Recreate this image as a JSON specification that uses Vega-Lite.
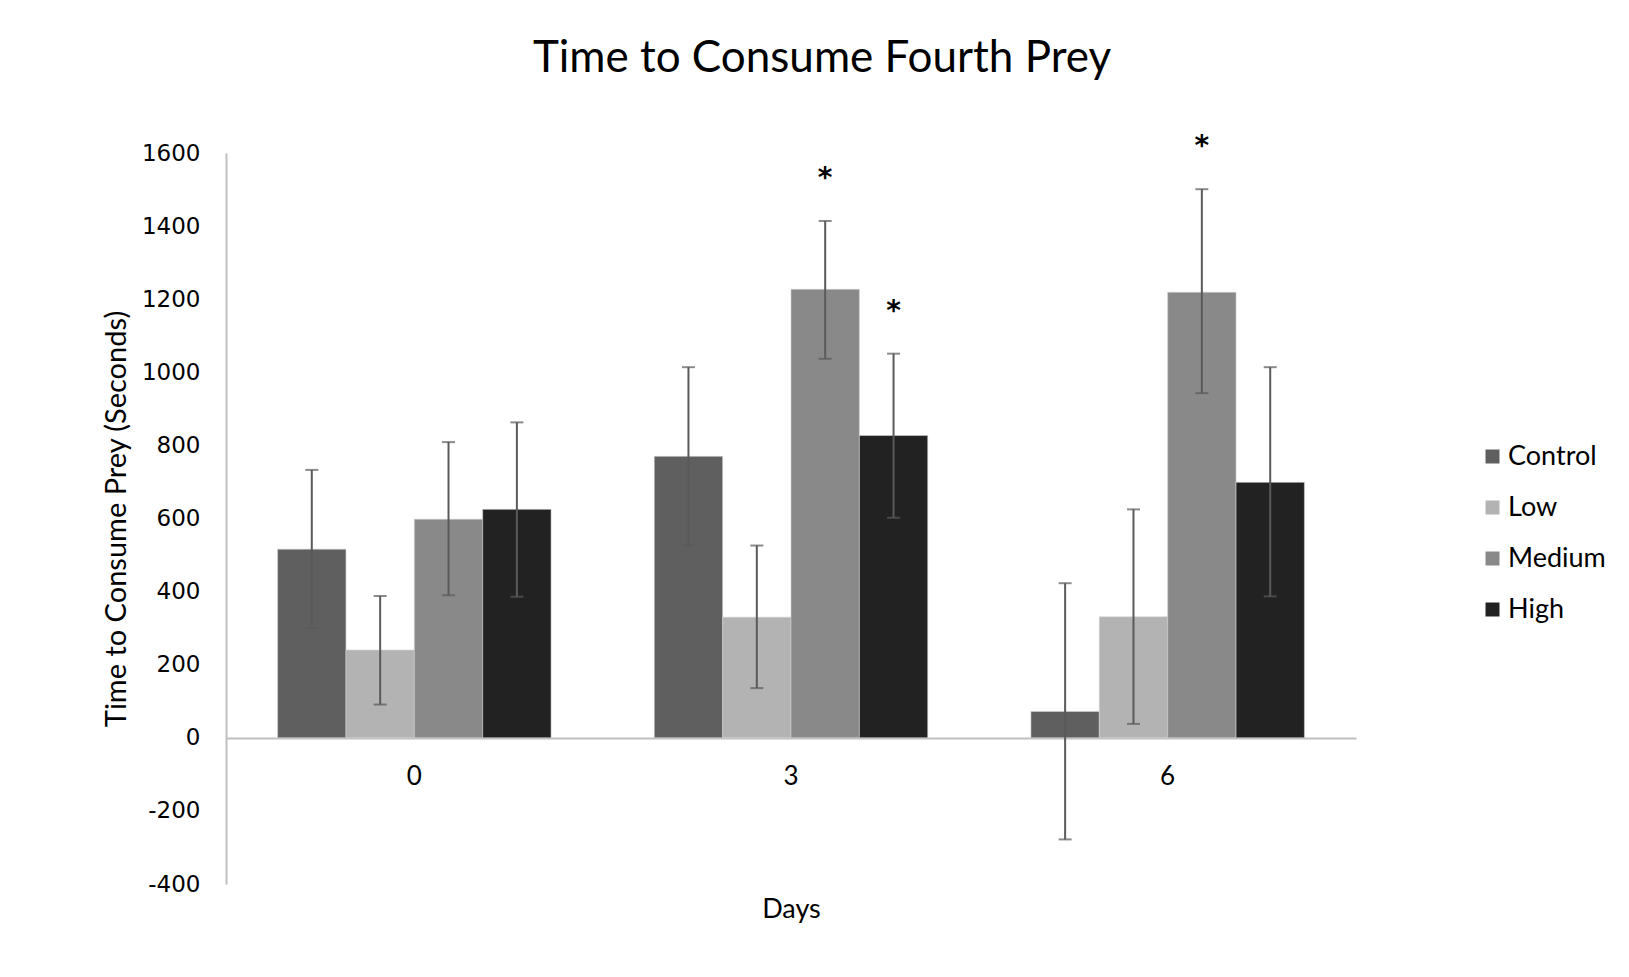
{
  "$schema": "https://vega.github.io/schema/vega-lite/v6.json",
  "autosize": "none",
  "width": 1130,
  "height": 731,
  "padding": {"left": 226, "top": 153, "right": 273, "bottom": 93},
  "background": "white",
  "title": {
    "text": "Time to Consume Fourth Prey",
    "font": "Lato",
    "fontSize": 44,
    "fontWeight": "normal",
    "color": "black",
    "anchor": "middle",
    "dx": 31,
    "offset": 52
  },
  "data": {
    "values": [
      {"Day": "0", "Group": "Control", "mean": 516, "lo": 300, "hi": 733, "sig": false},
      {"Day": "0", "Group": "Low", "mean": 240, "lo": 91, "hi": 388, "sig": false},
      {"Day": "0", "Group": "Medium", "mean": 598, "lo": 390, "hi": 809, "sig": false},
      {"Day": "0", "Group": "High", "mean": 625, "lo": 386, "hi": 863, "sig": false},
      {"Day": "3", "Group": "Control", "mean": 770, "lo": 526, "hi": 1014, "sig": false},
      {"Day": "3", "Group": "Low", "mean": 330, "lo": 136, "hi": 526, "sig": false},
      {"Day": "3", "Group": "Medium", "mean": 1227, "lo": 1037, "hi": 1414, "sig": true},
      {"Day": "3", "Group": "High", "mean": 827, "lo": 602, "hi": 1051, "sig": true},
      {"Day": "6", "Group": "Control", "mean": 72, "lo": -278, "hi": 423, "sig": false},
      {"Day": "6", "Group": "Low", "mean": 331, "lo": 38, "hi": 625, "sig": false},
      {"Day": "6", "Group": "Medium", "mean": 1219, "lo": 943, "hi": 1501, "sig": true},
      {"Day": "6", "Group": "High", "mean": 699, "lo": 387, "hi": 1014, "sig": false}
    ]
  },
  "encoding": {
    "x": {
      "field": "Day",
      "type": "nominal",
      "sort": ["0", "3", "6"],
      "scale": {"paddingInner": 0.274, "paddingOuter": 0.137},
      "axis": {
        "title": "Days",
        "orient": "bottom",
        "offset": -146,
        "labelAngle": 0,
        "ticks": false,
        "domainColor": "#bfbfbf",
        "domainWidth": 2,
        "labelFont": "Lato",
        "labelFontSize": 26,
        "labelColor": "black",
        "labelPadding": 25,
        "titleFont": "Lato",
        "titleFontSize": 27,
        "titleFontWeight": "normal",
        "titleColor": "black",
        "titlePadding": 107
      }
    },
    "xOffset": {
      "field": "Group",
      "type": "nominal",
      "sort": ["Control", "Low", "Medium", "High"],
      "scale": {"paddingInner": 0, "paddingOuter": 0}
    }
  },
  "layer": [
    {
      "mark": {"type": "bar", "stroke": "#d0d0d0", "strokeWidth": 0.6},
      "encoding": {
        "y": {
          "field": "mean",
          "type": "quantitative",
          "scale": {"domain": [-400, 1600], "nice": false, "zero": false},
          "axis": {
            "title": "Time to Consume Prey (Seconds)",
            "values": [-400, -200, 0, 200, 400, 600, 800, 1000, 1200, 1400, 1600],
            "labelExpr": "'' + datum.value",
            "grid": false,
            "ticks": false,
            "domainColor": "#bfbfbf",
            "domainWidth": 2,
            "labelFont": "DejaVu Sans",
            "labelFontSize": 23,
            "labelColor": "black",
            "labelPadding": 26,
            "titleFont": "Lato",
            "titleFontSize": 29,
            "titleFontWeight": "normal",
            "titleColor": "black",
            "titlePadding": 10
          }
        },
        "color": {
          "field": "Group",
          "type": "nominal",
          "sort": ["Control", "Low", "Medium", "High"],
          "scale": {
            "domain": ["Control", "Low", "Medium", "High"],
            "range": ["#5f5f5f", "#b3b3b3", "#898989", "#222222"]
          },
          "legend": {
            "title": null,
            "orient": "none",
            "legendX": 1253,
            "legendY": 290,
            "symbolType": "square",
            "symbolSize": 196,
            "symbolStrokeWidth": 0,
            "labelFont": "Lato",
            "labelFontSize": 27,
            "labelColor": "black",
            "labelOffset": 2,
            "rowPadding": 23
          }
        }
      }
    },
    {
      "mark": {"type": "rule", "color": "#5a5a5a", "strokeWidth": 2},
      "encoding": {
        "y": {"field": "lo", "type": "quantitative"},
        "y2": {"field": "hi"}
      }
    },
    {
      "mark": {"type": "tick", "color": "#5a5a5a", "thickness": 2, "size": 13, "orient": "horizontal"},
      "encoding": {
        "y": {"field": "hi", "type": "quantitative"}
      }
    },
    {
      "mark": {"type": "tick", "color": "#5a5a5a", "thickness": 2, "size": 13, "orient": "horizontal"},
      "encoding": {
        "y": {"field": "lo", "type": "quantitative"}
      }
    },
    {
      "transform": [{"filter": "datum.sig"}],
      "mark": {"type": "text", "text": "*", "font": "DejaVu Sans", "fontSize": 28, "fontWeight": "bold", "color": "black", "baseline": "middle", "dy": -42},
      "encoding": {
        "y": {"field": "hi", "type": "quantitative"}
      }
    }
  ],
  "config": {
    "view": {"stroke": null}
  }
}
